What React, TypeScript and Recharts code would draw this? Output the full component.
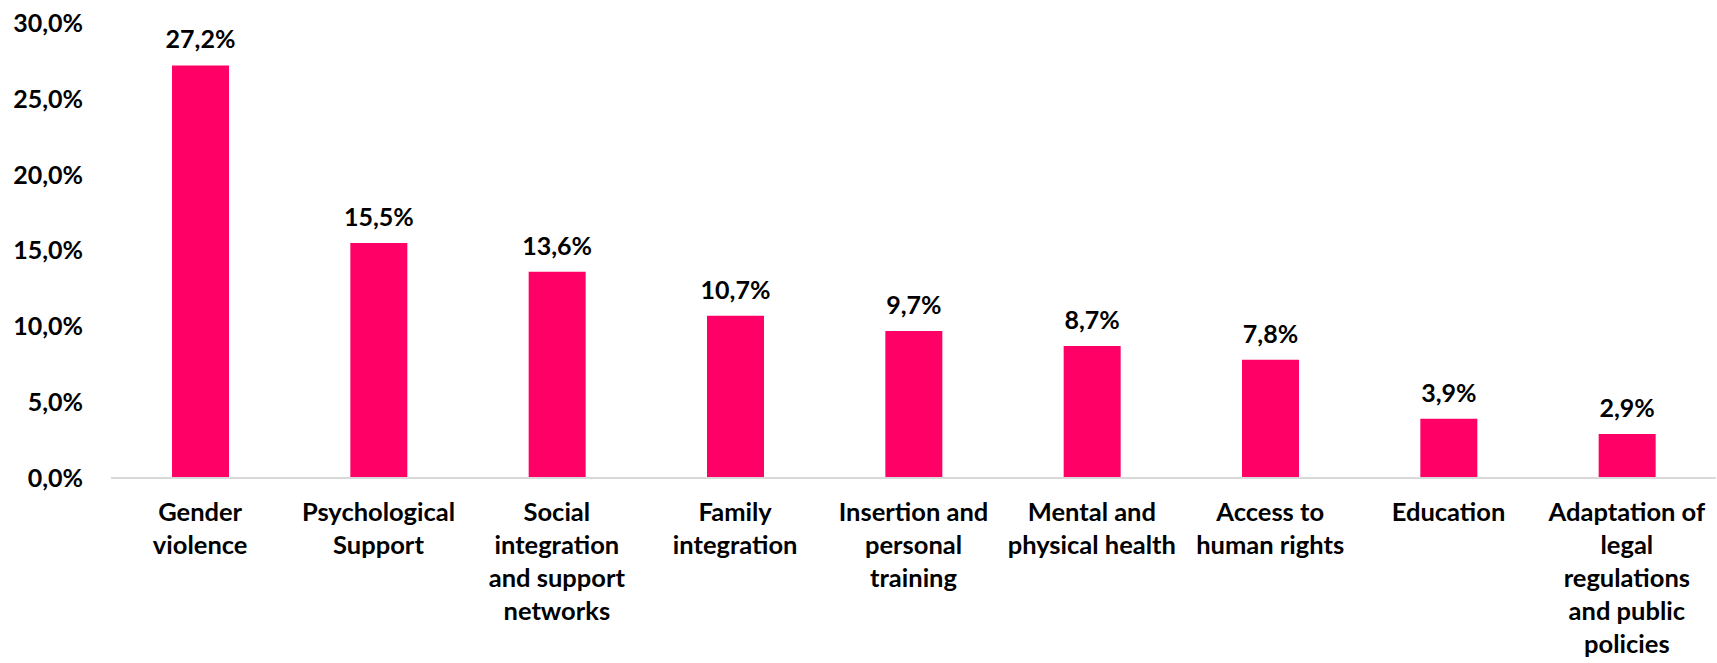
import { BarChart, Bar, XAxis, YAxis, LabelList } from "recharts";

const categories = [
  "Gender\nviolence",
  "Psychological\nSupport",
  "Social\nintegration\nand support\nnetworks",
  "Family\nintegration",
  "Insertion and\npersonal\ntraining",
  "Mental and\nphysical health",
  "Access to\nhuman rights",
  "Education",
  "Adaptation of\nlegal\nregulations\nand public\npolicies",
];
const shares = [27.2, 15.5, 13.6, 10.7, 9.7, 8.7, 7.8, 3.9, 2.9];
const yTicks = [0, 5, 10, 15, 20, 25, 30];

const data = categories.map((name, i) => ({ name, value: shares[i] }));

const FONT = "Lato, 'Open Sans', sans-serif";
const pct = (v: number) => v.toFixed(1).replace(".", ",") + "%";

function CategoryTick(props: any) {
  const { x, y, payload } = props;
  const lines = String(payload.value).split("\n");
  return (
    <text
      x={x}
      y={y}
      textAnchor="middle"
      fontFamily={FONT}
      fontWeight={700}
      fontSize={25.5}
      fill="#000"
    >
      {lines.map((l, i) => (
        <tspan key={i} x={x} dy={i === 0 ? 35 : 33}>
          {l}
        </tspan>
      ))}
    </text>
  );
}

export default function App() {
  return (
    <div style={{ position: "absolute", left: 0, top: 0, background: "#fff" }}>
      <BarChart
        width={1717}
        height={663}
        data={data}
        margin={{ top: 23, right: 1, bottom: 0, left: 0 }}
      >
        <YAxis
          width={111}
          domain={[0, 30]}
          ticks={yTicks}
          tickFormatter={pct}
          axisLine={false}
          tickLine={false}
          tickSize={0}
          tickMargin={28}
          tick={{ fontFamily: FONT, fontWeight: 700, fontSize: 25, fill: "#000" }}
        />
        <XAxis
          dataKey="name"
          height={185}
          interval={0}
          axisLine={{ stroke: "#d9d9d9", strokeWidth: 2 }}
          tickLine={false}
          tick={<CategoryTick />}
        />
        <Bar dataKey="value" fill="#ff0066" barSize={57} isAnimationActive={false}>
          <LabelList
            dataKey="value"
            position="top"
            offset={17}
            formatter={(v: any) => pct(Number(v))}
            style={{ fontFamily: FONT, fontWeight: 700, fontSize: 25, fill: "#000" }}
          />
        </Bar>
      </BarChart>
    </div>
  );
}
